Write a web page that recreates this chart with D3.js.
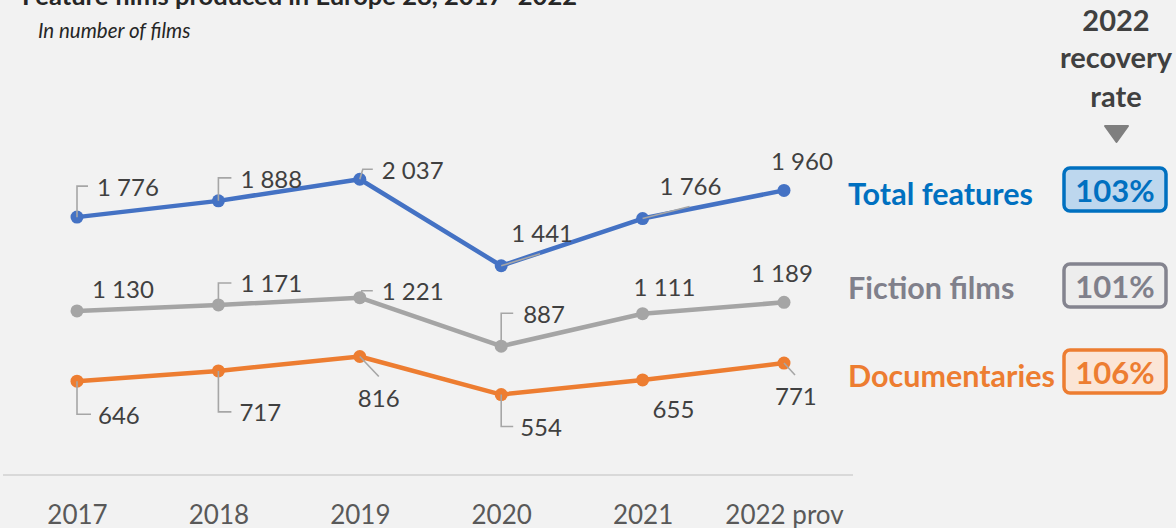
<!DOCTYPE html>
<html><head><meta charset="utf-8">
<script src="https://cdn.jsdelivr.net/npm/d3@7"></script>
<style>
html,body{margin:0;padding:0;background:#f2f2f2;}
svg{display:block;}
</style></head>
<body>
<svg id="chart" width="1176" height="528"></svg>
<script>
const years = ["2017","2018","2019","2020","2021","2022 prov"];
const totalFeatures = [1776,1888,2037,1441,1766,1960];
const fictionFilms = [1130,1171,1221,887,1111,1189];
const documentaries = [646,717,816,554,655,771];
const seriesNames = ["Total features","Fiction films","Documentaries"];
const recoveryRates = ["103%","101%","106%"];
const title = "Feature films produced in Europe 28, 2017–2022";
const subtitle = "In number of films";

// label layout (px offsets from each point): text dx/dy and leader path
const labelLayout = [
  [ {t:[20,-21],l:[[0,0],[0,-31],[11,-31]]}, {t:[22,-13],l:[[0,0],[0,-23],[13,-23]]}, {t:[22,0],l:[[0,0],[3,-10],[13,-10]]},
    {t:[10,-24],l:[[0,0],[39,-12]]}, {t:[17,-24],l:[[0,0],[47,-12]]}, {t:[-13,-20],l:null} ],
  [ {t:[15,-13],l:null}, {t:[22,-13],l:[[0,0],[0,-22],[13,-22]]}, {t:[22,2],l:[[0,0],[2,-7],[13,-7]]},
    {t:[22,-23],l:[[0,0],[0,-33],[12,-33]]}, {t:[-9,-18],l:null}, {t:[-33,-20],l:null} ],
  [ {t:[21,43],l:[[0,0],[0,33],[14,33]]}, {t:[21,50],l:[[0,0],[0,41],[13,41]]}, {t:[-2,50],l:[[0,0],[19,20]]},
    {t:[19,41],l:[[0,0],[0,32],[12,32]]}, {t:[10,38],l:null}, {t:[-9,42],l:[[0,0],[11,12]]} ]
];

const lineColors = ["#4472C4","#A5A5A5","#ED7D31"];
const textColors = ["#0070C0","#80808B","#ED7D31"];
const boxFills = ["#BDD7EE","#EDEDED","#FBE5D6"];
const boxStrokes = ["#0070C0","#84848F","#ED7D31"];

const svg = d3.select("#chart");
const data = [totalFeatures, fictionFilms, documentaries];

const x = d3.scalePoint().domain(years).range([77,784]);
const y = d3.scaleLinear().domain([0,2500]).range([475,112]);

const fmt = v => d3.format(",")(v).replace(/,/g," ");

// title & subtitle
svg.append("text").attr("x",22).attr("y",5)
  .attr("font-family","Lato").attr("font-weight","bold").attr("font-size",25.5).attr("fill","#262626")
  .text(title);
svg.append("text").attr("x",38).attr("y",38)
  .attr("font-family","Lato").attr("font-style","italic").attr("font-size",20.5).attr("fill","#262626")
  .text(subtitle);

// x axis
const xAxis = d3.axisBottom(x).tickSize(0).tickPadding(0);
const ax = svg.append("g").attr("transform","translate(0,475)").call(xAxis);
ax.select(".domain").remove();
ax.append("line").attr("x1",3).attr("x2",853).attr("y1",0).attr("y2",0)
  .attr("stroke","#d9d9d9").attr("stroke-width",2);
ax.selectAll(".tick text").attr("y",49).attr("dy",0)
  .attr("font-family","Lato").attr("font-size",26).attr("fill","#595959");

// lines
const line = d3.line().x((d,i)=>x(years[i])).y(d=>y(d));
data.forEach((s,si)=>{
  svg.append("path").datum(s).attr("d",line)
    .attr("fill","none").attr("stroke",lineColors[si]).attr("stroke-width",4.5)
    .attr("stroke-linejoin","round");
  svg.append("g").selectAll("circle").data(s).join("circle")
    .attr("cx",(d,i)=>x(years[i])).attr("cy",d=>y(d)).attr("r",6.5)
    .attr("fill",lineColors[si]);
});

// labels
data.forEach((s,si)=>{
  s.forEach((v,i)=>{
    const px = x(years[i]), py = y(v);
    const L = labelLayout[si][i];
    if (L.l) {
      svg.append("path")
        .attr("d", d3.line()(L.l.map(p=>[px+p[0],py+p[1]])))
        .attr("fill","none").attr("stroke","#A6A6A6").attr("stroke-width",1.6);
    }
    svg.append("text").attr("x",px+L.t[0]).attr("y",py+L.t[1])
      .attr("font-family","Lato").attr("font-size",24).attr("fill","#404040")
      .text(fmt(v));
  });
});

// right panel
const hdr = svg.append("text").attr("text-anchor","middle")
  .attr("font-family","Lato").attr("font-weight","bold").attr("font-size",29).attr("fill","#404040");
[["2022",31],["recovery",68],["rate",107]].forEach(([t,yy])=>{
  hdr.append("tspan").attr("x",1116).attr("y",yy).text(t);
});
svg.append("path").attr("d","M1105,126 L1128,126 L1116.5,142 Z")
  .attr("fill","#7F7F7F").attr("stroke","#7F7F7F").attr("stroke-width",2).attr("stroke-linejoin","round");

const rowBase = [205,299,387];
const boxTop = [168,264,350];
seriesNames.forEach((n,i)=>{
  svg.append("text").attr("x",848).attr("y",rowBase[i])
    .attr("font-family","Lato").attr("font-weight","bold").attr("font-size",30.5)
    .attr("fill",textColors[i]).text(n);
  svg.append("rect").attr("x",1064).attr("y",boxTop[i]).attr("width",102).attr("height",43)
    .attr("rx",6).attr("fill",boxFills[i]).attr("stroke",boxStrokes[i]).attr("stroke-width",3.5);
  svg.append("text").attr("x",1115).attr("y",boxTop[i]+34).attr("text-anchor","middle")
    .attr("font-family","Lato").attr("font-weight","bold").attr("font-size",31)
    .attr("fill",textColors[i]).text(recoveryRates[i]);
});
</script>
</body></html>
